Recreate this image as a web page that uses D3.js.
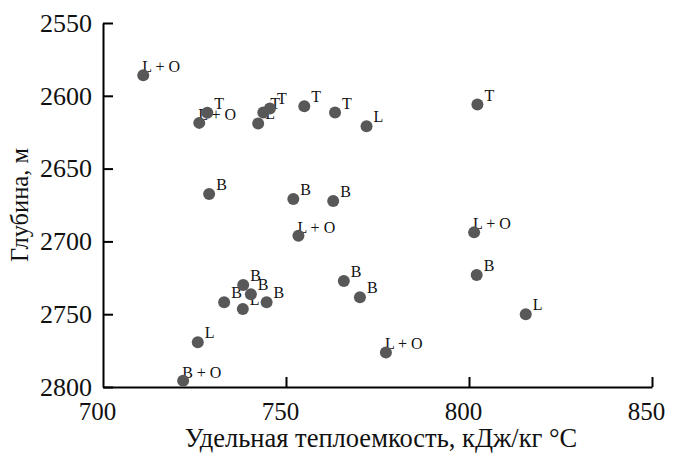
<!DOCTYPE html>
<html>
<head>
<meta charset="utf-8">
<script src="https://cdn.jsdelivr.net/npm/d3@7"></script>
<style>
  body { margin: 0; background: #fff; }
  text { font-family: "Liberation Serif", "DejaVu Serif", serif; }
</style>
</head>
<body>
<script>
// Chart size
const WIDTH = 673;
const HEIGHT = 455;

// Data: specific heat (kJ/kg °C), depth (m), rock type
const heat = [711.0, 728.5, 726.3, 742.4, 743.8, 745.6, 755.0, 763.4, 772.0, 802.3,
              729.0, 752.0, 762.9, 753.4, 801.4, 765.8, 770.2, 802.1, 815.5, 777.3,
              738.3, 740.4, 733.1, 744.7, 738.2, 725.9, 721.9];
const depth = [2585.9, 2611.7, 2618.6, 2619.0, 2611.5, 2608.7, 2607.1, 2611.5, 2620.9, 2606.0,
               2667.5, 2670.9, 2672.3, 2696.1, 2693.8, 2727.2, 2738.3, 2723.0, 2750.0, 2776.3,
               2729.9, 2736.3, 2741.8, 2741.8, 2746.4, 2769.2, 2795.7];
const kind = ['L + O', 'T', 'L + O', 'L', 'T', 'T', 'T', 'T', 'L', 'T',
              'B', 'B', 'B', 'L + O', 'L + O', 'B', 'B', 'B', 'L', 'L + O',
              'B', 'B', 'B', 'B', 'L', 'L', 'B + O'];

const xTicks = [700, 750, 800, 850];
const yTicks = [2550, 2600, 2650, 2700, 2750, 2800];

// Function to initialize the SVG canvas
function initCanvas() {
    return d3.select('body')
        .append('svg')
        .attr('width', WIDTH)
        .attr('height', HEIGHT);
}

function drawChart(svg) {
    const x = d3.scaleLinear().domain([700, 850]).range([103, 652]);
    const y = d3.scaleLinear().domain([2550, 2800]).range([23, 387]);

    // y axis, ticks pointing inward
    const yAxis = svg.append('g')
        .attr('transform', `translate(${x(700)},0)`)
        .call(d3.axisRight(y).tickValues(yTicks).tickSize(10).tickSizeOuter(0).tickFormat(d3.format('d')));
    yAxis.selectAll('text')
        .attr('x', -11)
        .attr('text-anchor', 'end')
        .attr('font-size', 26)
        .attr('fill', '#111');

    // x axis, ticks pointing up
    const xAxis = svg.append('g')
        .attr('transform', `translate(0,${y(2800)})`)
        .call(d3.axisTop(x).tickValues(xTicks).tickSize(10).tickSizeOuter(0).tickFormat(d3.format('d')));
    xAxis.selectAll('text')
        .attr('y', 33)
        .attr('dx', -6)
        .attr('font-size', 25)
        .attr('fill', '#111');
    xAxis.selectAll('.tick').filter(d => d === 700).select('line').remove();

    svg.selectAll('.domain, .tick line')
        .attr('stroke', '#000')
        .attr('stroke-width', 2);

    // axis titles
    svg.append('text')
        .attr('x', 381)
        .attr('y', 447)
        .attr('text-anchor', 'middle')
        .attr('font-size', 26.5)
        .attr('fill', '#111')
        .text('Удельная теплоемкость, кДж/кг °C');

    svg.append('text')
        .attr('transform', 'translate(28,205) rotate(-90)')
        .attr('text-anchor', 'middle')
        .attr('font-size', 24.5)
        .attr('fill', '#111')
        .text('Глубина, м');

    const idx = d3.range(heat.length);

    // point labels: combined types sit over the marker, single letters beside it
    svg.append('g').selectAll('text')
        .data(idx)
        .join('text')
        .attr('x', i => x(heat[i]) + (kind[i].length > 1 ? -1 : 7))
        .attr('y', i => y(depth[i]) + (kind[i].length > 1 ? -3 : -4))
        .attr('font-size', 16)
        .attr('fill', '#111')
        .text(i => kind[i]);

    svg.append('g').selectAll('circle')
        .data(idx)
        .join('circle')
        .attr('cx', i => x(heat[i]))
        .attr('cy', i => y(depth[i]))
        .attr('r', 6)
        .attr('fill', '#585858');
}

function main() {
    const svg = initCanvas();
    drawChart(svg);
}

main();
</script>
</body>
</html>
